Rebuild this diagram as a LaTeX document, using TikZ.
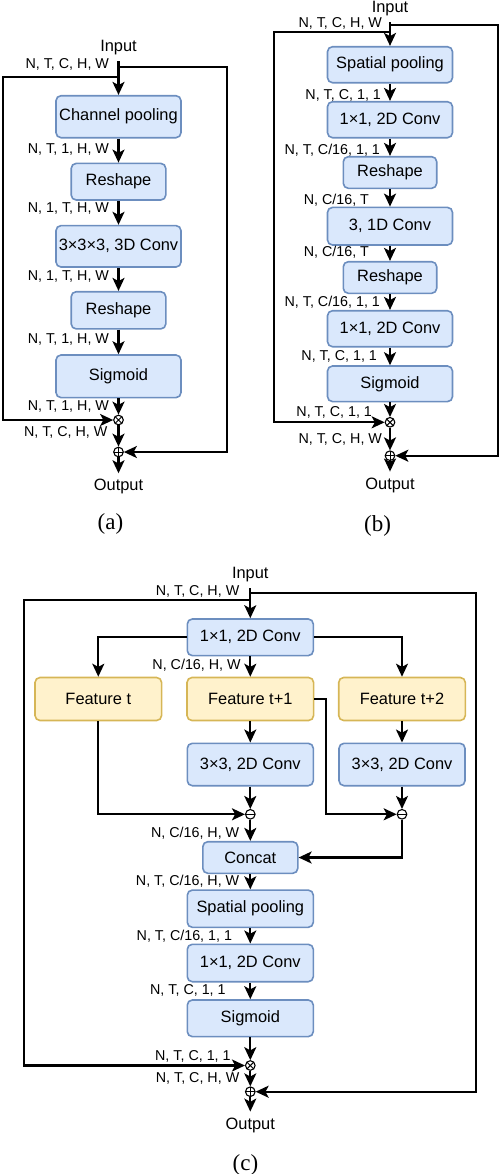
\documentclass[tikz,border=0pt]{standalone}
\usepackage{fontspec}
\setmainfont{Liberation Sans}
\newfontfamily\capfont{Liberation Serif}
\usepackage{tikz}
\usetikzlibrary{
	positioning,
	arrows.meta
}

\definecolor{blueFill}{HTML}{DAE8FC}
\definecolor{blueLine}{HTML}{6C8EBF}
\definecolor{yelFill}{HTML}{FFF2CC}
\definecolor{yelLine}{HTML}{D6B656}

\newcommand{\boxfont}{\fontsize{8.2pt}{9.5pt}\selectfont}
\newcommand{\lblfont}{\fontsize{7.15pt}{8pt}\selectfont}

\tikzset{
	opbox/.style={draw=blueLine, fill=blueFill, line width=0.8pt, rounded corners=2.5pt,
		inner sep=0pt, font=\boxfont, minimum width=62.5pt, minimum height=#1},
	opbox/.default=18pt,
	featbox/.style={opbox=21.5pt, draw=yelLine, fill=yelFill, minimum width=63.3pt},
	io/.style={font=\boxfont, inner sep=0pt, outer sep=3pt},
	capt/.style={font=\capfont\fontsize{11.5pt}{13pt}\selectfont, inner sep=0pt},
	lbl/.style={font=\lblfont, inner sep=0pt, anchor=east},
	arr/.style={line width=1.05pt, -{Stealth[length=6.5pt,width=6pt,inset=1.6pt]}},
	junc/.style={circle, draw, fill=white, line width=0.55pt, inner sep=0pt, minimum size=4.8pt},
	mulj/.style={junc, path picture={
		\draw[line width=0.5pt] (path picture bounding box.north west) -- (path picture bounding box.south east)
			(path picture bounding box.north east) -- (path picture bounding box.south west);}},
	plusj/.style={junc, path picture={
		\draw[line width=0.5pt] (path picture bounding box.north) -- (path picture bounding box.south)
			(path picture bounding box.west) -- (path picture bounding box.east);}},
	subj/.style={junc, path picture={
		\draw[line width=0.5pt] (path picture bounding box.west) -- (path picture bounding box.east);}}
}

\begin{document}
\begin{tikzpicture}[x=0.5pt, y=-0.5pt]
	\useasboundingbox (0,0) rectangle (500,1174);

	% (a)
	\node[io]                              (ain)  at (118.5,48)    {Input};
	\node[opbox=21pt]                      (acp)  at (118.5,116.7) {Channel pooling};
	\node[opbox=18.3pt,minimum width=47.3pt] (ars1) at (118.5,181.7) {Reshape};
	\node[opbox=20.7pt]                    (acv)  at (118.5,246.3) {3×3×3, 3D Conv};
	\node[opbox=18.6pt,minimum width=47.3pt] (ars2) at (118.5,310.3) {Reshape};
	\node[opbox=21.3pt]                    (asg)  at (118.5,376.3) {Sigmoid};
	\node[mulj]                            (amul) at (118.5,420)   {};
	\node[plusj]                           (aadd) at (118.5,452)   {};
	\node[io]                              (aout) at (118.5,486.7) {Output};
	\node[capt]                            (acap) at (110.5,524)   {(a)};
	\coordinate (aL) at (3,76.7);
	\coordinate (aR) at (227,66.7);

	\draw[arr] (ain) -- node[lbl,pos=0.1,xshift=-4.25pt]{N, T, C, H, W} (acp);
	\draw[arr] (ain.south |- aL) -- (aL) |- (amul.west);
	\draw[arr] (ain.south |- aR) -- (aR) |- (aadd.east);
	\draw[arr] (acp)  -- node[lbl,xshift=-4.25pt,yshift=0.75pt]{N, T, 1, H, W} (ars1);
	\draw[arr] (ars1) -- node[lbl,xshift=-4.25pt,yshift=2.4pt]{N, 1, T, H, W} (acv);
	\draw[arr] (acv)  -- node[lbl,xshift=-4.25pt,yshift=1.2pt]{N, 1, T, H, W} (ars2);
	\draw[arr] (ars2) -- node[lbl,xshift=-4.25pt,yshift=1.3pt]{N, T, 1, H, W} (asg);
	\draw[arr] (asg)  -- node[lbl,xshift=-4.25pt]{N, T, 1, H, W} (amul);
	\draw[arr] (amul) -- node[lbl,xshift=-5pt,yshift=1.6pt]{N, T, C, H, W} (aadd);
	\draw[arr] (aadd) -- (aout);

	% (b)
	\node[io]                              (bin)  at (390,9)     {Input};
	\node[opbox=18pt]                      (bsp)  at (390,64.7)  {Spatial pooling};
	\node[opbox=18pt]                      (bc1)  at (390,119.7) {1×1, 2D Conv};
	\node[opbox=15.8pt,minimum width=46.7pt] (brs1) at (390,172.5) {Reshape};
	\node[opbox=18.8pt]                    (bc1d) at (390,226.2) {3, 1D Conv};
	\node[opbox=15.8pt,minimum width=46.7pt] (brs2) at (390,277.5) {Reshape};
	\node[opbox=18pt]                      (bc2)  at (390,328.7) {1×1, 2D Conv};
	\node[opbox=17.8pt]                    (bsg)  at (390,383.8) {Sigmoid};
	\node[mulj]                            (bmul) at (390,422.3) {};
	\node[plusj]                           (badd) at (390,455.7) {};
	\node[io]                              (bout) at (390,485)   {Output};
	\node[capt]                            (bcap) at (377.5,526) {(b)};
	\coordinate (bL) at (274,31.7);
	\coordinate (bR) at (498,25);

	\draw[arr] (bin) -- node[lbl,pos=0.05,xshift=-3.5pt]{N, T, C, H, W} (bsp);
	\draw[arr] (bin.south |- bL) -- (bL) |- (bmul.west);
	\draw[arr] (bin.south |- bR) -- (bR) |- (badd.east);
	\draw[arr] (bsp)  -- node[lbl,xshift=-4pt,yshift=-1.4pt]{N, T, C, 1, 1} (bc1);
	\draw[arr] (bc1)  -- node[lbl,xshift=-4.5pt,yshift=-1.4pt]{N, T, C/16, 1, 1} (brs1);
	\draw[arr] (brs1) -- node[lbl,xshift=-10pt,yshift=-1pt]{N, C/16, T} (bc1d);
	\draw[arr] (bc1d) -- node[lbl,xshift=-10pt,yshift=0.8pt]{N, C/16, T} (brs2);
	\draw[arr] (brs2) -- node[lbl,xshift=-4.5pt]{N, T, C/16, 1, 1} (bc2);
	\draw[arr] (bc2)  -- node[lbl,xshift=-6pt]{N, T, C, 1, 1} (bsg);
	\draw[arr] (bsg)  -- node[lbl,xshift=-8.5pt,yshift=-1.5pt]{N, T, C, 1, 1} (bmul);
	\draw[arr] (bmul) -- node[lbl,xshift=-3.5pt]{N, T, C, H, W} (badd);
	\draw[arr] (badd) -- (bout);

	% (c)
	\node[io]                              (cin)  at (250.3,575)    {Input};
	\node[opbox=18.3pt,minimum width=63pt] (cc1)  at (250.3,637.3)  {1×1, 2D Conv};
	\node[featbox]                         (cft0) at (98.3,699)     {Feature t};
	\node[featbox]                         (cft1) at (250.3,699)    {Feature t+1};
	\node[featbox]                         (cft2) at (402,699)      {Feature t+2};
	\node[opbox=21.2pt,minimum width=63pt] (cc3a) at (250.3,764.5)  {3×3, 2D Conv};
	\node[opbox=21.2pt,minimum width=63pt] (cc3b) at (402,764.5)    {3×3, 2D Conv};
	\node[subj]                            (csub1) at (250.3,814.3) {};
	\node[subj]                            (csub2) at (402,814.3)   {};
	\node[opbox=15.8pt,minimum width=47.5pt] (ccat) at (250.3,857.5) {Concat};
	\node[opbox=18.6pt,minimum width=63pt] (csp)  at (250.3,908.7)  {Spatial pooling};
	\node[opbox=18.7pt,minimum width=63pt] (cc1b) at (250.3,963)    {1×1, 2D Conv};
	\node[opbox=18.3pt,minimum width=63pt] (csg)  at (250.3,1018.3) {Sigmoid};
	\node[mulj]                            (cmul) at (250.3,1065.5) {};
	\node[plusj]                           (cadd) at (250.3,1091.7) {};
	\node[io]                              (cout) at (250.3,1125)   {Output};
	\node[capt]                            (ccap) at (245.5,1165)   {(c)};
	\coordinate (cL) at (24,600);
	\coordinate (cR) at (476,593.3);
	\coordinate (cbend) at (326,699);

	\draw[arr] (cin) -- node[lbl,pos=0.1,xshift=-5pt]{N, T, C, H, W} (cc1);
	\draw[arr] (cin.south |- cL) -- (cL) |- (cmul.west);
	\draw[arr] (cin.south |- cR) -- (cR) |- (cadd.east);
	\draw[arr] (cc1.west) -| (cft0.north);
	\draw[arr] (cc1.east) -| (cft2.north);
	\draw[arr] (cc1) -- node[lbl,xshift=-4.3pt,yshift=0.7pt]{N, C/16, H, W} (cft1);
	\draw[arr] (cft1) -- (cc3a);
	\draw[arr] (cft2) -- (cc3b);
	\draw[arr] (cc3a) -- (csub1);
	\draw[arr] (cc3b) -- (csub2);
	\draw[arr] (cft0.south) |- (csub1.west);
	\draw[arr] (cft1.east) -- (cbend) |- (csub2.west);
	\draw[arr] (csub2.south) |- (ccat.east);
	\draw[arr] (csub1) -- node[lbl,xshift=-5pt,yshift=-1.3pt]{N, C/16, H, W} (ccat);
	\draw[arr] (ccat) -- node[lbl,xshift=-5pt]{N, T, C/16, H, W} (csp);
	\draw[arr] (csp)  -- node[lbl,xshift=-8.6pt]{N, T, C/16, 1, 1} (cc1b);
	\draw[arr] (cc1b) -- node[lbl,xshift=-11.8pt]{N, T, C, 1, 1} (csg);
	\draw[arr] (csg)  -- node[lbl,xshift=-9.3pt,yshift=-3.6pt]{N, T, C, 1, 1} (cmul);
	\draw[arr] (cmul) -- node[lbl,xshift=-5pt]{N, T, C, H, W} (cadd);
	\draw[arr] (cadd) -- (cout);
\end{tikzpicture}
\end{document}
